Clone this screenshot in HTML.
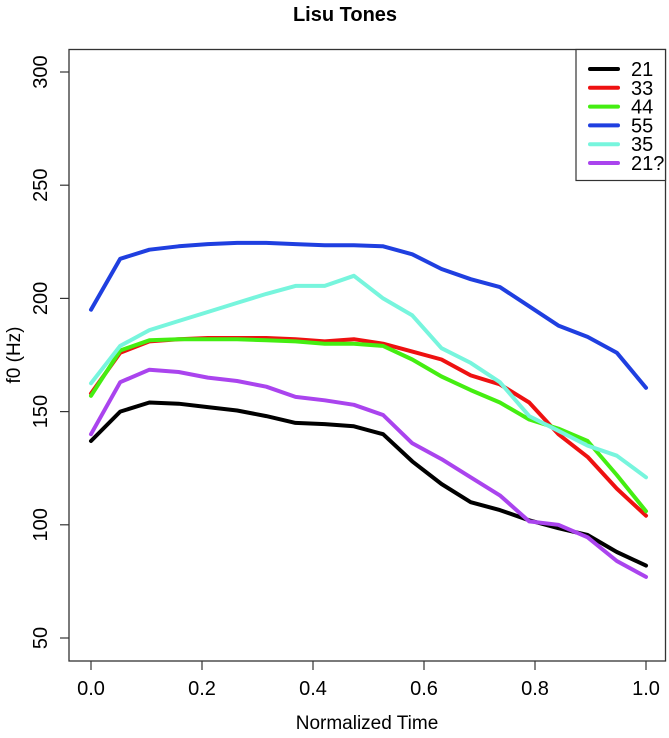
<!DOCTYPE html>
<html><head><meta charset="utf-8"><style>
body{margin:0;background:#fff}
svg text{font-family:"Liberation Sans",Arial,sans-serif}
</style></head><body>
<svg id="chart" width="669" height="733" xmlns="http://www.w3.org/2000/svg">
<text x="345" y="21" text-anchor="middle" font-size="20" font-weight="bold">Lisu Tones</text>
<rect x="69" y="49.5" width="596.5" height="611.5" fill="none" stroke="#333" stroke-width="1.3"/>
<g id="axes"></g>
<g id="series"></g>
<text x="367" y="729" text-anchor="middle" font-size="19">Normalized Time</text>
<text transform="translate(20,355) rotate(-90)" text-anchor="middle" font-size="19">f0 (Hz)</text>
<g>
<rect x="576" y="49.5" width="89.5" height="131" fill="#fff" stroke="#333" stroke-width="1.2"/>
<g id="legend-items"></g>
</g>
</svg>
<script>
const xTicks=[0,0.2,0.4,0.6,0.8,1.0];
const xTickLabels=["0.0","0.2","0.4","0.6","0.8","1.0"];
const yTicks=[50,100,150,200,250,300];
const seriesNames=["21","33","44","55","35","21?"];
const seriesColors=["#000000","#ee1111","#44ee11","#1f3fe0","#77f5dd","#aa44ee"];
const s21=[137,150,154,153.5,152,150.5,148,145,144.5,143.5,140,128,118,110,106.5,102,98.5,95.5,88,82];
const s33=[158,176,181,182,182.5,182.5,182.5,182,181,182,180,176.5,173,166,162,154,140,130,116,104];
const s44=[157,177,181.5,182,182,182,181.5,181,180,180,179,173,165.5,159.5,154,146.5,142.5,137,122,106];
const s55=[195,217.5,221.5,223,224,224.5,224.5,224,223.5,223.5,223,219.5,213,208.5,205,196.5,188,183,176,160.5];
const s35=[162.5,179,186,190,194,198,202,205.5,205.5,210,200,192.5,178,171.5,163,148,141.5,135,130.5,121];
const s21q=[140,163,168.5,167.5,165,163.5,161,156.5,155,153,148.5,136,129,121,113,101.5,100,94.5,84,77];
const allSeries=[s21,s33,s44,s55,s35,s21q];
const NS="http://www.w3.org/2000/svg";
function xs(v){return 91+v*555;}
function ys(v){return 72+(300-v)*2.264;}
function mk(t,a){const e=document.createElementNS(NS,t);for(const k in a)e.setAttribute(k,a[k]);return e;}
const ax=document.getElementById('axes');
xTicks.forEach((t,i)=>{
 const l=mk('line',{x1:xs(t),x2:xs(t),y1:661,y2:670,stroke:'#333','stroke-width':1.2});
 
 
 ax.appendChild(l);
 const tx=mk('text',{x:xs(t),y:695,'text-anchor':'middle','font-size':20});
 
 
 tx.textContent=xTickLabels[i];ax.appendChild(tx);
});
yTicks.forEach(t=>{
 const y=ys(t);
 const l=mk('line',{x1:60,x2:69,y1:y,y2:y,stroke:'#333','stroke-width':1.2});
 
 
 ax.appendChild(l);
 const tx=mk('text',{transform:`translate(47,${y}) rotate(-90)`,'text-anchor':'middle','font-size':20});
 
 
 tx.textContent=String(t);ax.appendChild(tx);
});
const sg=document.getElementById('series');
allSeries.forEach((d,i)=>{
 const n=d.length;
 const pts=d.map((v,j)=>xs(j/(n-1)).toFixed(1)+','+ys(v).toFixed(1)).join(' ');
 const p=mk('polyline',{points:pts,fill:'none',stroke:seriesColors[i],'stroke-width':4,'stroke-linejoin':'round','stroke-linecap':'round'});
 
 
 sg.appendChild(p);
});
const lg=document.getElementById('legend-items');
seriesNames.forEach((nm,i)=>{
 const y=69+i*18.8;
 const l=mk('line',{x1:590,x2:618,y1:y,y2:y,stroke:seriesColors[i],'stroke-width':4,'stroke-linecap':'round'});
 
 
 lg.appendChild(l);
 const t=mk('text',{x:631,y:y+7,'font-size':20});
 
 
 t.textContent=nm;lg.appendChild(t);
});
</script>
</body></html>
